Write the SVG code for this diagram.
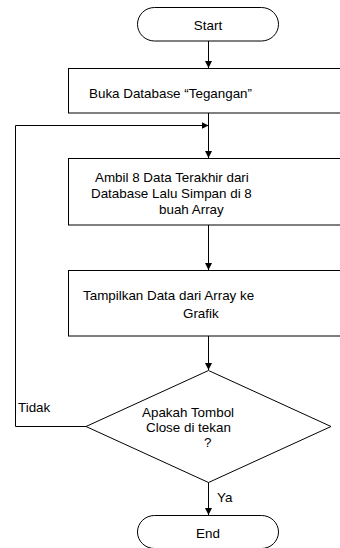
<svg xmlns="http://www.w3.org/2000/svg" width="340" height="548" viewBox="0 0 340 548">
  <defs>
    <marker id="arrow" viewBox="0 0 10 10" refX="10" refY="5" markerWidth="7" markerHeight="7" markerUnits="userSpaceOnUse" orient="auto">
      <path d="M0,0 L10,5 L0,10 Z" fill="#000"/>
    </marker>
  </defs>
  <style>
    .shape { fill: #fff; stroke: #000; stroke-width: 1; }
    .edge { fill: none; stroke: #000; stroke-width: 1; }
    .arrow { marker-end: url(#arrow); }
    text { font-family: "Liberation Sans", Arial, sans-serif; font-size: 13.4px; fill: #000; }
    .mid { text-anchor: middle; }
  </style>
  <rect width="340" height="548" fill="#fff"/>

  <g id="connectors">
    <path class="edge arrow" d="M208.5,41 V68"/>
    <path class="edge arrow" d="M208.5,113 V158"/>
    <path class="edge arrow" d="M208.5,225 V270"/>
    <path class="edge arrow" d="M208.5,336 V370"/>
    <path class="edge arrow" d="M208.5,482 V515"/>
    <path class="edge arrow" d="M86,426.5 H15.5 V125.5 H208.5"/>
    <text x="18" y="411.5">Tidak</text>
    <text x="217" y="501.5">Ya</text>
  </g>

  <g id="start">
    <rect class="shape" x="137.5" y="7.5" width="141" height="33.5" rx="17" ry="16.75"/>
    <text class="mid" x="208" y="29.5">Start</text>
  </g>

  <g id="open-db">
    <rect class="shape" x="68.5" y="68.5" width="280" height="44.5"/>
    <text x="89" y="97.5">Buka Database “Tegangan”</text>
  </g>

  <g id="fetch-data">
    <rect class="shape" x="68.5" y="158.5" width="280" height="66.5"/>
    <text x="95" y="181.5">Ambil 8 Data Terakhir dari</text>
    <text x="91" y="197.5">Database Lalu Simpan di 8</text>
    <text x="159" y="213.5">buah Array</text>
  </g>

  <g id="show-graph">
    <rect class="shape" x="68.5" y="270.5" width="280" height="65.5"/>
    <text x="83" y="299.5">Tampilkan Data dari Array ke</text>
    <text x="183" y="317.5">Grafik</text>
  </g>

  <g id="close-check">
    <polygon class="shape" points="208.5,370.5 331,426.5 208.5,482.5 86,426.5"/>
    <text x="142" y="416.5">Apakah Tombol</text>
    <text x="146" y="431.5">Close di tekan</text>
    <text x="204" y="446.5">?</text>
  </g>

  <g id="end">
    <rect class="shape" x="137.5" y="515.5" width="141" height="33" rx="17" ry="16.5"/>
    <text class="mid" x="208" y="537.5">End</text>
  </g>
</svg>
